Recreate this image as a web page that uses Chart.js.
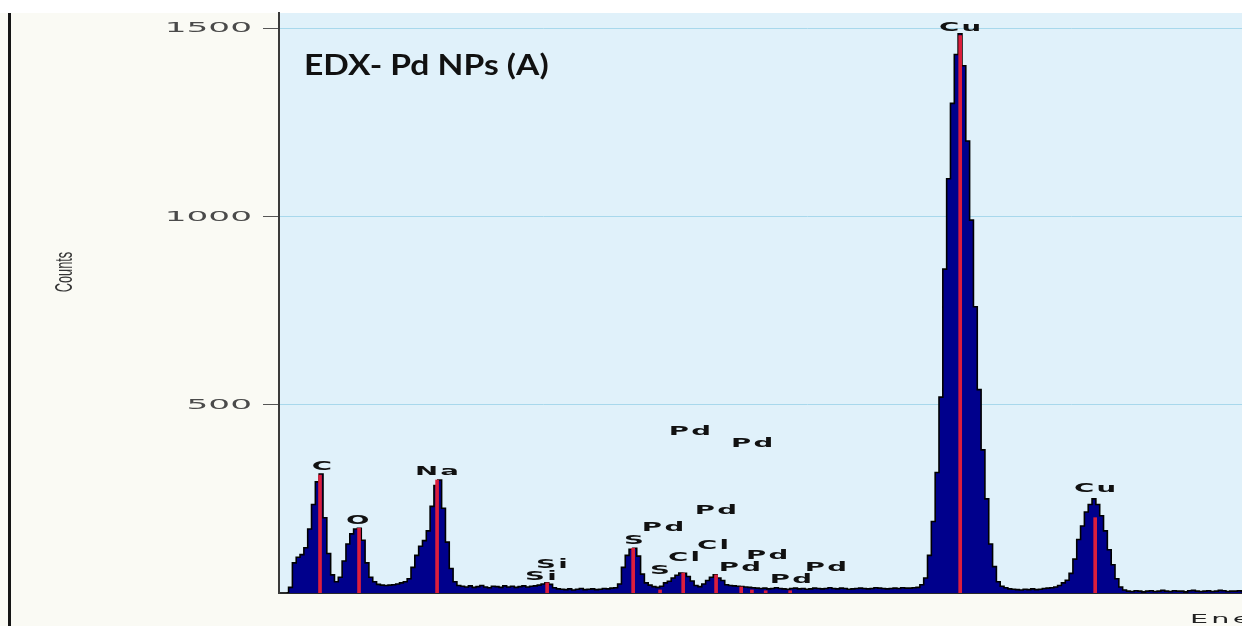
<!DOCTYPE html>
<html>
<head>
<meta charset="utf-8">
<title>EDX- Pd NPs (A)</title>
<script src="https://cdn.jsdelivr.net/npm/chart.js@4.4.0/dist/chart.umd.min.js"></script>
<style>
  html, body { margin: 0; padding: 0; width: 1242px; height: 626px; overflow: hidden; background: #fafaf4; }
  #wrap { position: absolute; left: 0; top: 0; width: 1340px; height: 626px; }
  canvas { display: block; }
</style>
</head>
<body>
<div id="wrap"><canvas id="edx" width="1340" height="626"></canvas></div>
<script>
// ---- Spectrum: counts per channel (energy calibration: start + index * width, keV) ----
const CHANNEL_START = 0.05;
const CHANNEL_WIDTH = 0.025;
const counts = [
  // C and O
  0, 15, 80, 95, 102, 120, 170, 235, 295, 316,
  200, 105, 48, 30, 42, 85, 130, 157, 170, 172,
  140, 80, 42, 30, 23, 21, 20, 21, 22, 24,
  // Na
  27, 30, 38, 68, 100, 124, 139, 165, 230, 285,
  300, 225, 135, 65, 30, 20,
  18, 16, 19, 15, 17, 20, 16, 14, 18, 17, 15, 19, 16, 18, 15, 17, 19, 16, 18,
  // Si
  19, 21, 24, 27, 23, 14, 11,
  10, 9, 11, 8, 10, 12, 9, 10, 11, 9, 10, 12, 11, 13, 14,
  // S
  24, 68, 100, 116, 119, 98, 50, 27, 21, 17, 15, 18,
  // Cl
  27, 31, 40, 47, 53, 52, 44, 32, 20, 17,
  // Pd L lines
  24, 33, 42, 48, 40, 33, 22, 20, 19, 18, 17, 16,
  15, 14, 13, 12, 13, 11, 12, 14, 12, 11, 10, 12, 13, 11, 12, 10, 11, 13, 12, 11, 12,
  14, 12, 11, 13, 12, 10, 11, 12, 13, 12, 11, 12, 14, 13, 12, 11, 12, 13, 12, 14, 13,
  // Cu main line
  13, 14, 15, 22, 40, 100, 190, 320, 520, 860, 1100, 1300, 1430, 1485,
  1400, 1200, 990, 760, 540, 380, 250, 130, 70, 30, 18, 14,
  11, 10, 9, 8, 10, 9, 11, 9, 10, 12,
  // Cu second line
  13, 14, 16, 20, 27, 34, 52, 90, 142, 178, 215, 235, 250, 235, 205, 165, 115, 75, 38, 16, 8,
  5, 4, 6, 5, 3, 5, 6, 4, 5, 7, 5, 4, 6, 5, 5, 3, 6, 7, 5, 4, 5, 6, 4, 5, 7, 6, 4, 5,
  5, 6, 4, 3, 5, 6, 7, 5, 4, 6, 5, 4, 5, 6, 5, 4, 7, 6, 5, 4, 5, 6, 5, 4, 6, 5, 4, 5
];

// ---- Element line markers (energy, marker height in counts) ----
const markerEnergy = [0.268, 0.523, 1.033, 1.752, 2.314, 2.490, 2.641, 2.856, 3.020, 3.090, 3.180, 3.340, 4.451, 5.333];
const markerTop    = [313,   172,   300,   27,    119,   8,     53,    48,    16,    8,     6,     6,     1480,  200];

// ---- Element labels (name, energy, level in counts) ----
const labelNames  = ['C',   'O',   'Na',  'Si',  'Si',  'S',   'S',   'Pd',  'Cl',  'Cl',  'Pd',  'Pd',  'Pd',  'Pd',  'Pd',  'Pd',  'Pd',  'Cu',  'Cu'];
const labelEnergy = [0.281, 0.516, 1.033, 1.784, 1.712, 2.320, 2.490, 2.510, 2.647, 2.837, 2.856, 2.686, 3.092, 3.190, 3.013, 3.575, 3.346, 4.451, 5.333];
const labelLevel  = [334,   191,   321,   74,    42,    138,   58,    172,   93,    125,   217,   427,   395,   98,    66,    66,    34,    1501,  276];

// ---- Axes ----
const countTicks = [500, 1000, 1500];
const countMax = 1540;
const energyMax = 6.9;
const yTitle = 'Counts';
const xTitle = 'Energy - keV';
const chartTitle = 'EDX- Pd NPs (A)';

const spectrum = counts.map((c, i) => ({ x: CHANNEL_START + i * CHANNEL_WIDTH, y: c }));
const markers = markerEnergy.map((e, i) => ({ x: e, y: markerTop[i] }));

// horizontally stretched text, as the instrument software renders it
function wideText(ctx, text, x, y, sx, align, spacing) {
  ctx.save();
  ctx.translate(x, y);
  ctx.scale(sx, 1);
  if ('letterSpacing' in ctx) ctx.letterSpacing = (spacing || 0) + 'px';
  ctx.textAlign = align;
  ctx.fillText(text, 0, 0);
  ctx.restore();
}

const decor = {
  id: 'decor',
  beforeDraw(chart) {
    const { ctx, chartArea: a } = chart;
    ctx.save();
    ctx.fillStyle = '#ffffff';
    ctx.fillRect(0, 0, chart.width, a.top);
    ctx.fillStyle = '#e0f1fa';
    ctx.fillRect(a.left, a.top, a.right - a.left, a.bottom - a.top);
    ctx.fillStyle = '#151515';
    ctx.fillRect(8, a.top, 3, chart.height - a.top);
    ctx.restore();
  },
  afterDatasetsDraw(chart) {
    const { ctx, scales: { x, y } } = chart;
    ctx.save();
    ctx.fillStyle = '#111';
    ctx.font = 'bold 12px "DejaVu Sans"';
    ctx.textBaseline = 'middle';
    labelNames.forEach((name, i) => {
      wideText(ctx, name, x.getPixelForValue(labelEnergy[i]) + 1, y.getPixelForValue(labelLevel[i]), 2.3, 'center', 1);
    });
    ctx.restore();
  },
  afterDraw(chart) {
    const { ctx, chartArea: a, scales: { y } } = chart;
    ctx.save();
    // count tick labels
    ctx.fillStyle = '#4a4a4a';
    ctx.font = '14px "DejaVu Sans"';
    ctx.textBaseline = 'middle';
    countTicks.forEach(v => {
      wideText(ctx, String(v), a.left - 27, y.getPixelForValue(v) + 0.5, 2.45, 'right', 0);
    });
    // y axis title
    ctx.fillStyle = '#333';
    ctx.font = '24px "Liberation Sans"';
    ctx.save();
    ctx.translate(65, (a.top + a.bottom) / 2 - 31);
    ctx.rotate(-Math.PI / 2);
    ctx.scale(0.53, 1);
    ctx.textAlign = 'center';
    ctx.textBaseline = 'middle';
    ctx.fillText(yTitle, 0, 0);
    ctx.restore();
    // x axis title
    ctx.fillStyle = '#222';
    ctx.font = '13px "DejaVu Sans"';
    ctx.textBaseline = 'alphabetic';
    wideText(ctx, xTitle, a.right - 145, a.bottom + 30, 2.2, 'left', 1.5);
    // chart title inside the plot
    ctx.fillStyle = '#111';
    ctx.font = 'bold 28px Lato';
    ctx.textBaseline = 'alphabetic';
    wideText(ctx, chartTitle, a.left + 25, a.top + 62, 1.2, 'left', 0);
    ctx.restore();
  }
};

new Chart(document.getElementById('edx'), {
  type: 'line',
  data: {
    datasets: [
      {
        type: 'bar',
        data: markers,
        backgroundColor: '#dc1e3c',
        barThickness: 3,
        grouped: false,
        order: 1
      },
      {
        type: 'line',
        data: spectrum,
        stepped: 'middle',
        borderColor: '#000000',
        borderWidth: 1.6,
        backgroundColor: '#00008c',
        fill: 'origin',
        pointRadius: 0,
        order: 2
      }
    ]
  },
  options: {
    responsive: false,
    animation: false,
    devicePixelRatio: 1,
    layout: { padding: { left: 0, top: 13, right: 5, bottom: 0 } },
    plugins: { legend: { display: false }, tooltip: { enabled: false }, title: { display: false } },
    scales: {
      x: {
        type: 'linear',
        min: 0,
        max: energyMax,
        offset: false,
        grid: { display: false, drawTicks: false },
        ticks: { display: false },
        border: { display: true, color: '#2a2a2a', width: 2 },
        afterFit(scale) { scale.height = 33; }
      },
      y: {
        type: 'linear',
        min: 0,
        max: countMax,
        afterBuildTicks(scale) { scale.ticks = countTicks.map(v => ({ value: v })); },
        grid: { color: '#a8d8ec', lineWidth: 1, drawTicks: true, tickLength: 16, tickColor: '#555', tickWidth: 1 },
        ticks: { display: false },
        border: { display: true, color: '#3a3a3a', width: 2 },
        afterFit(scale) { scale.width = 279; }
      }
    }
  },
  plugins: [decor]
});
</script>
</body>
</html>
